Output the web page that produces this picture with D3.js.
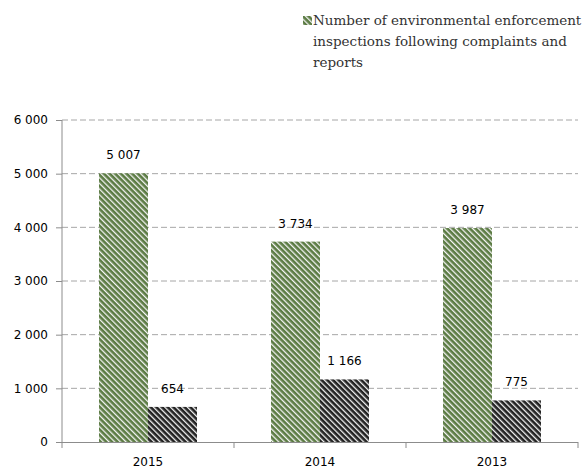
<!DOCTYPE html>
<html>
<head>
<meta charset="utf-8">
<script src="https://cdn.jsdelivr.net/npm/d3@7"></script>
<style>
  html, body { margin: 0; padding: 0; background: #fff; }
  svg { display: block; }
</style>
</head>
<body>
<svg id="chart" width="585" height="469"></svg>
<script>
// Years shown on the category axis
const years = ["2015", "2014", "2013"];
// Inspections following complaints and reports
const inspections = [5007, 3734, 3987];
// Second series (dark bars)
const secondSeries = [654, 1166, 775];
// Value-axis ticks
const yTicks = [0, 1000, 2000, 3000, 4000, 5000, 6000];
const legendLines = [
  "Number of environmental enforcement",
  "inspections following complaints and",
  "reports"
];

const svg = d3.select("#chart");
const plotLeft = 62, plotRight = 578, plotTop = 120, plotBottom = 442;

const x = d3.scaleBand().domain(years).range([plotLeft, plotRight]);
const y = d3.scaleLinear().domain([0, 6000]).range([plotBottom, plotTop]);
const fmt = v => d3.format(",")(v).replace(/,/g, " ");

// Hatch patterns
const defs = svg.append("defs");
function hatch(id, color) {
  const p = defs.append("pattern")
    .attr("id", id)
    .attr("patternUnits", "userSpaceOnUse")
    .attr("width", 4).attr("height", 4)
    .attr("patternTransform", "rotate(-45)");
  p.append("rect").attr("width", 4).attr("height", 4).attr("fill", color);
  p.append("rect").attr("x", 0).attr("width", 1.3).attr("height", 4).attr("fill", "#f4f4f4");
}
hatch("hatchGreen", "#5b7b43");
hatch("hatchDark", "#222222");

// Gridlines
svg.append("g")
  .selectAll("line")
  .data(yTicks.filter(d => d > 0))
  .join("line")
  .attr("x1", plotLeft).attr("x2", plotRight)
  .attr("y1", d => y(d)).attr("y2", d => y(d))
  .attr("stroke", "#a6a6a6")
  .attr("stroke-width", 1)
  .attr("stroke-dasharray", "6,3");

// Y axis
const yAxis = d3.axisLeft(y).tickValues(yTicks).tickFormat(fmt).tickSize(6).tickPadding(8);
const gy = svg.append("g").attr("transform", `translate(${plotLeft},0)`).call(yAxis);
gy.select(".domain").attr("stroke", "#8c8c8c").attr("d", `M0,${plotBottom}V${plotTop}`);
gy.selectAll(".tick line").attr("stroke", "#8c8c8c");
gy.selectAll("text")
  .attr("fill", "#000")
  .style("font-family", "'DejaVu Sans', Verdana, sans-serif")
  .style("font-size", "12px");

// X axis with ticks at band boundaries
svg.append("line")
  .attr("x1", plotLeft).attr("x2", plotRight)
  .attr("y1", plotBottom + 0.5).attr("y2", plotBottom + 0.5)
  .attr("stroke", "#8c8c8c");
const bounds = years.map(d => x(d)).concat([plotRight]);
svg.append("g").selectAll("line").data(bounds).join("line")
  .attr("x1", d => d).attr("x2", d => d)
  .attr("y1", plotBottom).attr("y2", plotBottom + 6)
  .attr("stroke", "#8c8c8c");
svg.append("g").selectAll("text").data(years).join("text")
  .attr("x", d => x(d) + x.bandwidth() / 2)
  .attr("y", 466)
  .attr("text-anchor", "middle")
  .style("font-family", "'DejaVu Sans', Verdana, sans-serif")
  .style("font-size", "12px")
  .attr("fill", "#000")
  .text(d => d);

// Bars
const barW = 49;
const groups = years.map((yr, i) => ({ yr, a: inspections[i], b: secondSeries[i] }));
const cx = d => x(d.yr) + x.bandwidth() / 2;

svg.append("g").selectAll("rect").data(groups).join("rect")
  .attr("x", d => cx(d) - barW)
  .attr("y", d => y(d.a))
  .attr("width", barW)
  .attr("height", d => plotBottom - y(d.a))
  .attr("fill", "url(#hatchGreen)");

svg.append("g").selectAll("rect").data(groups).join("rect")
  .attr("x", d => cx(d))
  .attr("y", d => y(d.b))
  .attr("width", barW)
  .attr("height", d => plotBottom - y(d.b))
  .attr("fill", "url(#hatchDark)");

// Value labels
const labelStyle = sel => sel
  .attr("text-anchor", "middle")
  .style("font-family", "'DejaVu Sans', Verdana, sans-serif")
  .style("font-size", "12px")
  .attr("fill", "#000");

svg.append("g").selectAll("text").data(groups).join("text")
  .attr("x", d => cx(d) - barW / 2)
  .attr("y", d => y(d.a) - 14)
  .call(labelStyle)
  .text(d => fmt(d.a));

svg.append("g").selectAll("text").data(groups).join("text")
  .attr("x", d => cx(d) + barW / 2)
  .attr("y", d => y(d.b) - 14)
  .call(labelStyle)
  .text(d => fmt(d.b));

// Legend
const lg = svg.append("g");
lg.append("rect")
  .attr("x", 303).attr("y", 16).attr("width", 9).attr("height", 9)
  .attr("fill", "url(#hatchGreen)");
lg.selectAll("text").data(legendLines).join("text")
  .attr("x", 313)
  .attr("y", (d, i) => 25 + i * 21)
  .style("font-family", "'DejaVu Serif', serif")
  .style("font-size", "13.5px")
  .attr("fill", "#333")
  .text(d => d);
</script>
</body>
</html>
